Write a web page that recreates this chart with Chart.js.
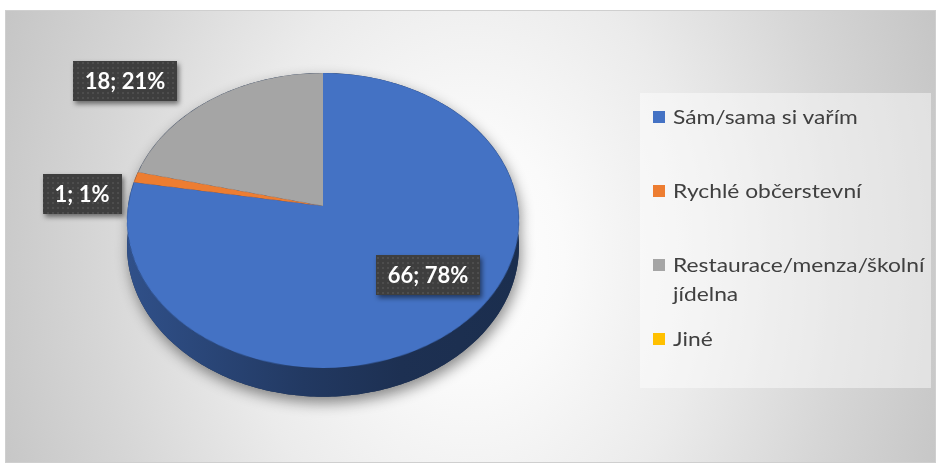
<!DOCTYPE html>
<html>
<head>
<meta charset="utf-8">
<script src="https://cdn.jsdelivr.net/npm/chart.js@4.4.1/dist/chart.umd.min.js"></script>
<style>
    body { margin: 0; background: #fff; width: 936px; height: 463px; position: relative; overflow: hidden; }
    #frame {
        position: absolute; left: 5px; top: 10px; width: 929px; height: 451px;
        border: 1px solid #cfcfcf;
        background: radial-gradient(ellipse 56% 150% at 50% 55%, #ffffff 0%, #fafafa 18%, #ebebeb 45%, #d6d6d6 72%, #c3c3c3 100%);
    }
    #pieChart { position: absolute; left: 0; top: 0; }
    #legend {
        position: absolute; left: 640px; top: 93px; width: 291px; height: 295px;
        background: rgba(255, 255, 255, 0.45);
        font: 19px Lato, sans-serif; color: #404040;
    }
    #legend .item { position: absolute; left: 13px; height: 29px; line-height: 29px; }
    #legend .sw { position: absolute; left: 0; top: 9px; width: 12px; height: 12px; }
    #legend .txt { position: absolute; left: 20px; top: 0; width: 215px; transform: scaleX(1.2); transform-origin: 0 0; }
</style>
</head>
<body>
<div id="frame"></div>
<canvas id="pieChart" width="936" height="463"></canvas>
<div id="legend"></div>
<script>
    const categories = ['Sám/sama si vařím', 'Rychlé občerstevní', 'Restaurace/menza/školní jídelna', 'Jiné'];
    const counts = [66, 1, 18, 0];
    const colors = ['#4472c4', '#ed7d31', '#a5a5a5', '#ffc000'];

    // value boxes (centres, page px)
    const labelSpots = [[428, 275], [82, 194], [125, 81], null];
    // legend rows, from the top of the legend box
    const legendRows = [9, 83, 157, 231];

    // tilted pie: perspective factor, x/y squash, lift of the centre, side height
    const tilt = { persp: 0.098, sx: 0.975, sy: 0.73, lift: 25, depth: 0.13 };

    function shade(hex, k) {
        const n = parseInt(hex.slice(1), 16);
        const r = Math.round(((n >> 16) & 255) * k), g = Math.round(((n >> 8) & 255) * k), b = Math.round((n & 255) * k);
        return `rgb(${r},${g},${b})`;
    }

    // dotted fill for the value boxes
    const dots = document.createElement('canvas');
    dots.width = dots.height = 5;
    const dctx = dots.getContext('2d');
    dctx.fillStyle = '#3e3e3e';
    dctx.fillRect(0, 0, 5, 5);
    dctx.fillStyle = '#4d4d4d';
    dctx.fillRect(2, 2, 2, 2);

    const tiltedPie = {
        id: 'tiltedPie',
        afterDatasetsDraw(chart) {
            const arcs = chart.getDatasetMeta(0).data;
            const { x: cx, y: cy, outerRadius: R } = arcs[0];
            const ctx = chart.ctx;
            const pad = 3;
            const x0 = Math.floor(cx - R - pad), y0 = Math.floor(cy - R - pad);
            const size = Math.ceil(2 * (R + pad)) + 1;

            // take the flat pie Chart.js drew, then wipe it
            const flat = document.createElement('canvas');
            flat.width = flat.height = size;
            flat.getContext('2d').drawImage(chart.canvas, x0, y0, size, size, 0, 0, size, size);
            ctx.save();
            ctx.setTransform(1, 0, 0, 1, 0, 0);
            ctx.clearRect(x0, y0, size, size);

            const c = tilt.persp, B = tilt.sx * R, H = tilt.sy * R;
            const ox = cx, oy = cy - tilt.lift;
            const proj = (a, drop = 0) => {
                const u = Math.cos(a), t = Math.sin(a), D = 1 - c * t;
                return [ox + B * u / D, oy + (H * t + drop * R) / D];
            };
            const trace = (a0, a1, drop, first) => {
                const n = Math.max(2, Math.ceil(Math.abs(a1 - a0) * 60));
                for (let i = 0; i <= n; i++) {
                    const [x, y] = proj(a0 + (a1 - a0) * i / n, drop);
                    if (first && i === 0) ctx.moveTo(x, y); else ctx.lineTo(x, y);
                }
            };

            // soft shadow under the whole cake
            ctx.beginPath();
            trace(Math.PI, 2 * Math.PI, 0, true);
            trace(0, Math.PI, tilt.depth, false);
            ctx.closePath();
            ctx.shadowColor = 'rgba(0,0,0,0.45)';
            ctx.shadowBlur = 14;
            ctx.shadowOffsetX = 2;
            ctx.shadowOffsetY = 6;
            ctx.fillStyle = shade(colors[0], 0.4);
            ctx.fill();
            ctx.shadowColor = 'transparent';

            // front walls of the slices
            arcs.forEach((arc, i) => {
                const a0 = Math.max(arc.startAngle, 0), a1 = Math.min(arc.endAngle, Math.PI);
                if (a1 <= a0) return;
                const g = ctx.createLinearGradient(ox - B, 0, ox + B, 0);
                g.addColorStop(0, shade(colors[i], 0.7));
                g.addColorStop(0.45, shade(colors[i], 0.5));
                g.addColorStop(0.7, shade(colors[i], 0.42));
                g.addColorStop(1, shade(colors[i], 0.4));
                ctx.beginPath();
                trace(a0, a1, 0, true);
                trace(a1, a0, tilt.depth, false);
                ctx.closePath();
                ctx.fillStyle = g;
                ctx.fill();
            });

            // top face: the flat pie, redrawn row by row in perspective
            const tOf = y => { const d = y - oy; return d / (H + c * d); };
            const top = Math.floor(oy - H / (1 + c)), bot = Math.ceil(oy + H / (1 - c));
            for (let y = top; y < bot; y++) {
                const t1 = Math.max(tOf(y), -1), t2 = Math.min(tOf(y + 1), 1);
                if (t2 <= t1) continue;
                const s = B / (R * (1 - c * (t1 + t2) / 2));
                const srcY = (cy - y0) + t1 * R, srcH = (t2 - t1) * R;
                ctx.drawImage(flat, 0, srcY, size, srcH, ox - (cx - x0) * s, y, size * s, 1);
            }

            // value boxes
            const total = counts.reduce((a, b) => a + b, 0);
            ctx.font = 'bold 22px Lato';
            ctx.textAlign = 'center';
            ctx.textBaseline = 'middle';
            counts.forEach((v, i) => {
                if (!v || !labelSpots[i]) return;
                const text = `${v}; ${Math.round(v / total * 100)}%`;
                const w = ctx.measureText(text).width + 24, h = 40;
                const [lx, ly] = labelSpots[i];
                ctx.shadowColor = 'rgba(0,0,0,0.5)';
                ctx.shadowBlur = 5;
                ctx.shadowOffsetX = 2;
                ctx.shadowOffsetY = 3;
                ctx.fillStyle = ctx.createPattern(dots, 'repeat');
                ctx.fillRect(Math.round(lx - w / 2), Math.round(ly - h / 2), Math.round(w), h);
                ctx.shadowColor = 'transparent';
                ctx.fillStyle = '#fff';
                ctx.fillText(text, lx, ly + 1);
            });
            ctx.restore();
        }
    };

    new Chart(document.getElementById('pieChart'), {
        type: 'pie',
        data: {
            labels: categories,
            datasets: [{ data: counts, backgroundColor: colors, borderWidth: 0 }]
        },
        options: {
            responsive: false,
            animation: false,
            devicePixelRatio: 1,
            events: [],
            layout: { padding: { left: 123, right: 413, top: 31, bottom: 32 } },
            plugins: { legend: { display: false }, tooltip: { enabled: false } }
        },
        plugins: [tiltedPie]
    });

    // legend on the right
    const legend = document.getElementById('legend');
    categories.forEach((name, i) => {
        const row = document.createElement('div');
        row.className = 'item';
        row.style.top = legendRows[i] + 'px';
        row.innerHTML = `<span class="sw" style="background:${colors[i]}"></span><span class="txt">${name}</span>`;
        legend.appendChild(row);
    });
</script>
</body>
</html>
